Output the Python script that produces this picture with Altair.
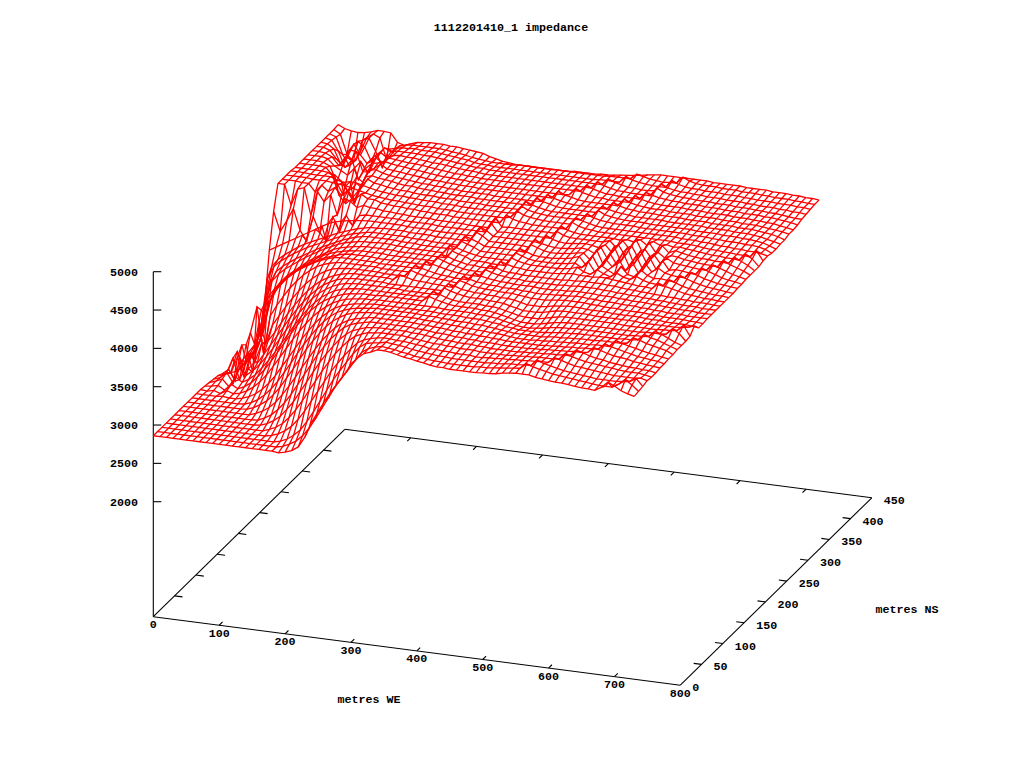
import altair as alt
import pandas as pd

we_m = [i * 10 for i in range(74)]
ns_m = [i * 10.1 for i in range(44)]

# impedance, in tens of ohms, one list per NS line (0..330 m WE, then 340..730 m WE)
z00 = [286,286,286,286,286,286,286,286,286,286,286,286,286,286,286,286,286,286,286,285,287,290,296,310,330,345,360,374,386,398,413,422,429,432]+[436,436,435,433,431,430,428,427,425,424,424,423,423,423,423,423,424,424,425,427,428,429,429,429,427,426,425,424,424,423,422,421,421,420,425,433,429,424,421,419]
z01 = [286,286,286,286,286,286,286,286,286,286,286,286,286,286,286,286,286,286,286,288,292,297,305,316,330,345,360,375,388,400,412,424,430,433]+[435,434,433,431,430,428,427,426,425,425,424,424,424,424,424,425,425,426,427,428,429,430,437,434,432,430,428,427,426,425,424,423,422,421,421,421,426,433,427,420]
z02 = [286,286,286,286,286,286,286,286,286,286,286,286,286,286,286,286,286,286,288,292,298,306,318,332,347,362,377,390,402,414,424,430,432,433]+[435,434,433,432,430,429,428,427,426,426,425,425,425,425,425,425,426,426,427,428,428,429,429,437,434,432,430,428,427,426,425,424,423,423,423,423,424,425,430,421]
z03 = [286,286,286,286,286,286,286,286,286,286,286,286,286,286,286,286,288,291,296,303,313,325,339,353,367,381,393,404,414,423,428,431,433,434]+[434,433,433,432,431,430,428,428,427,427,426,426,426,425,425,426,426,427,427,428,428,429,429,430,430,437,435,432,430,429,428,427,426,425,424,424,424,424,425,423]
z04 = [286,286,286,286,286,286,286,286,286,286,286,286,286,286,286,289,293,299,308,319,332,346,360,374,387,399,409,418,425,429,432,433,434,434]+[434,434,433,432,431,430,429,429,428,428,427,427,427,426,426,426,426,426,427,427,428,428,429,429,429,430,438,435,433,431,430,429,428,427,426,425,425,425,424,422]
z05 = [286,286,286,286,286,286,286,286,286,286,286,286,286,287,290,295,302,312,323,337,351,365,379,391,402,412,420,426,429,432,433,434,434,434]+[434,434,433,433,432,431,430,429,429,428,428,428,427,427,426,426,426,426,426,427,427,428,428,429,429,430,430,438,436,433,431,430,428,427,426,425,425,424,424,422]
z06 = [286,286,286,286,286,286,286,286,286,286,286,286,287,291,296,304,314,326,340,354,368,382,394,405,414,422,427,430,432,434,434,434,434,434]+[434,434,433,433,432,431,431,430,429,429,428,428,427,427,427,426,426,426,426,426,427,427,428,428,429,429,430,430,431,438,436,433,431,430,429,427,426,425,424,423]
z07 = [286,286,286,286,286,286,286,286,286,286,286,289,293,299,307,318,330,343,357,370,383,395,405,414,421,426,429,431,433,434,434,434,434,434]+[434,434,433,433,432,432,431,430,430,429,429,428,428,427,427,426,426,426,426,426,426,427,427,428,428,429,429,430,430,431,439,436,434,432,430,428,427,426,425,423]
z08 = [286,286,286,286,286,286,286,286,286,287,290,295,301,310,321,334,347,361,375,387,398,408,416,422,427,430,432,433,434,434,434,434,434,434]+[434,434,433,433,432,432,431,431,430,430,429,429,428,428,427,426,425,425,425,426,426,427,427,428,428,429,429,429,430,430,430,439,436,434,432,430,428,427,425,424]
z09 = [286,286,286,286,286,286,286,286,287,290,295,302,311,322,335,348,362,375,387,398,408,416,422,426,429,431,432,433,434,434,434,434,434,434]+[434,433,433,433,432,432,431,431,431,430,430,429,428,427,426,425,425,425,425,425,426,427,427,428,428,429,429,429,430,430,430,430,431,439,437,434,432,430,428,424]
z10 = [286,286,286,286,287,286,286,288,291,296,303,312,323,336,349,362,375,387,398,407,415,421,425,428,430,431,432,433,433,433,433,433,433,433]+[433,433,433,432,432,432,432,431,431,431,430,429,428,426,425,424,424,424,424,425,426,427,428,428,429,429,429,429,429,429,429,430,430,431,439,436,434,431,428,425]
z11 = [286,285,287,284,289,286,288,292,298,306,316,328,341,354,367,379,390,400,408,415,421,425,428,430,431,432,432,433,433,433,433,433,433,433]+[433,433,433,432,432,432,432,432,431,431,430,429,427,425,423,422,422,423,424,426,427,428,428,429,429,429,429,429,429,429,429,429,430,430,431,439,436,432,428,425]
z12 = [285,286,288,283,292,287,291,297,306,316,328,341,354,367,380,391,401,409,416,421,425,428,430,431,432,432,432,433,433,433,433,433,433,433]+[440,437,435,433,432,432,432,432,431,431,430,428,426,424,422,422,422,423,425,427,428,429,429,429,429,429,429,429,429,429,429,429,429,430,430,430,431,439,434,425]
z13 = [284,287,291,282,296,290,295,302,312,323,335,348,361,374,386,397,406,414,420,425,428,430,431,432,432,432,432,432,432,432,432,432,432,432]+[441,438,435,433,432,432,432,432,431,431,430,428,426,424,423,423,423,425,427,429,430,430,430,430,430,430,430,430,430,429,429,429,429,429,429,430,430,431,439,426]
z14 = [283,286,294,281,303,294,301,310,321,333,346,359,372,384,395,405,413,419,424,428,430,431,432,432,432,432,432,432,432,431,431,431,431,431]+[431,441,438,436,434,433,433,433,432,432,431,429,427,425,425,425,426,428,430,431,431,431,431,431,430,430,430,430,430,430,430,429,429,429,429,429,429,430,431,434]
z15 = [282,285,288,310,285,315,305,318,331,344,357,370,382,393,403,411,418,423,427,430,431,432,432,432,432,432,431,431,431,431,431,431,431,431]+[431,441,439,436,435,434,434,433,433,432,432,431,429,427,427,427,428,430,431,432,432,432,431,431,431,431,430,430,430,430,430,429,429,429,428,428,428,428,427,426]
z16 = [279,286,272,320,290,300,325,330,342,356,369,381,392,402,410,417,422,426,429,431,432,432,432,432,432,432,431,438,436,434,433,433,432,432]+[431,431,441,439,436,435,434,434,433,433,433,432,431,430,430,430,431,432,433,433,433,433,432,432,431,431,431,430,430,430,430,429,429,428,428,428,428,427,427,426]
z17 = [274,295,268,315,280,345,320,345,358,371,383,394,404,412,419,424,428,430,431,432,432,432,432,432,431,431,431,431,440,437,435,434,433,433]+[432,431,441,438,436,435,434,434,433,433,433,432,432,431,431,432,432,433,433,434,434,433,433,432,432,432,431,431,431,430,430,429,429,428,428,428,427,427,427,427]
z18 = [270,298,275,325,360,300,350,365,378,390,400,409,416,422,426,429,431,432,432,432,432,432,432,431,431,431,431,431,441,438,436,434,433,432]+[431,431,431,441,438,436,435,434,434,433,433,433,433,432,432,432,433,433,434,434,434,434,433,433,433,432,432,431,431,431,430,430,429,429,428,428,428,427,427,427]
z19 = [265,280,292,304,350,368,380,390,398,405,411,416,421,425,428,431,432,432,432,432,432,432,431,431,431,431,431,431,431,442,439,437,435,433]+[432,431,431,431,441,438,436,435,434,434,433,433,433,433,433,433,434,434,435,435,435,435,434,434,433,433,432,432,431,431,430,430,429,429,428,428,428,427,427,427]
z20 = [263,275,285,300,335,365,378,388,396,403,409,414,419,423,426,429,431,432,432,432,432,431,431,431,431,431,431,431,431,431,442,439,436,434]+[432,431,431,431,441,439,436,435,435,434,434,434,434,434,434,434,435,435,436,436,436,436,435,435,434,433,433,432,432,431,431,430,430,429,429,428,428,428,427,427]
z21 = [263,272,285,310,350,367,378,387,395,402,408,414,419,423,426,428,430,431,432,432,432,432,431,431,431,431,431,431,431,431,441,439,436,434]+[432,432,431,431,431,442,439,437,436,435,435,435,435,435,436,437,438,437,437,437,438,438,437,436,435,434,433,433,432,440,437,435,433,431,430,429,428,428,427,427]
z22 = [267,278,295,335,360,372,381,388,395,402,408,413,418,423,426,428,430,431,432,432,432,432,432,431,431,431,431,431,431,431,431,441,438,436]+[432,432,432,431,431,431,442,439,437,436,436,436,436,436,437,438,441,436,434,441,437,434,440,436,434,439,435,433,432,431,440,437,434,432,431,430,429,428,428,427]
z23 = [272,290,335,365,375,383,389,395,401,406,411,416,420,424,427,429,431,432,432,433,433,433,432,432,431,431,431,431,431,431,442,440,437,435]+[433,432,432,432,432,432,443,440,437,436,436,436,436,437,438,440,435,444,432,441,436,432,443,434,432,442,436,433,434,433,432,441,438,435,433,431,430,429,428,427]
z24 = [276,300,355,372,380,386,392,397,402,407,412,416,420,424,427,430,432,433,433,433,433,433,432,432,432,431,431,431,431,431,431,443,440,437]+[433,433,433,433,433,433,443,440,437,436,436,436,437,438,440,443,433,446,431,444,435,446,432,445,431,445,435,441,436,434,433,433,441,438,435,433,431,430,429,428]
z25 = [290,355,372,380,386,392,397,402,406,410,414,418,422,425,428,430,432,433,433,433,433,433,433,432,432,432,431,431,431,431,431,444,441,438]+[434,434,434,434,434,434,433,444,441,438,437,437,438,439,441,442,434,448,430,446,433,449,431,447,430,448,433,445,434,436,435,434,433,442,439,436,433,431,430,428]
z26 = [320,365,376,383,389,395,400,404,408,412,416,420,423,426,429,431,433,433,434,434,434,434,433,433,433,433,432,432,432,432,432,432,445,441]+[435,435,435,435,435,435,434,445,441,439,438,438,439,440,442,441,437,446,432,449,431,450,430,448,432,446,435,443,438,437,436,435,434,434,442,439,436,433,431,429]
z27 = [380,385,390,395,400,405,410,415,420,425,428,430,432,433,434,435,435,435,435,435,435,434,434,434,434,433,433,433,433,433,433,433,446,442]+[436,436,436,436,436,436,436,435,446,442,440,439,440,441,442,441,439,444,435,446,433,447,432,445,434,443,437,441,440,438,437,436,435,435,434,443,439,436,433,429]
z28 = [425,400,415,432,405,392,425,405,395,428,410,432,420,434,436,436,436,436,436,436,435,435,435,435,435,434,434,434,434,434,434,434,434,447]+[436,437,437,437,437,437,437,437,437,447,443,441,441,441,441,441,441,444,436,446,436,450,434,448,436,446,438,442,440,438,437,436,436,435,435,434,443,439,435,429]
z29 = [456,456,430,452,455,420,452,440,450,425,448,445,438,442,440,440,438,438,437,437,436,436,436,436,435,435,435,435,435,434,434,434,434,448]+[437,438,438,438,438,438,438,438,438,448,444,442,441,441,441,441,441,441,440,442,440,444,438,444,440,442,440,441,440,439,438,437,436,436,435,435,434,443,438,429]
z30 = [456,456,456,455,455,445,455,448,454,445,452,442,450,445,445,442,441,440,440,439,439,438,438,437,437,437,436,436,436,436,436,436,436,436]+[447,443,441,440,439,439,439,439,439,439,449,445,443,442,441,441,441,441,441,441,441,441,441,441,441,441,440,440,440,439,438,437,437,436,436,435,435,434,443,431]
z31 = [456,456,456,456,455,455,455,454,453,452,450,448,446,444,443,442,441,441,440,440,439,439,439,438,438,438,437,437,437,437,437,437,437,437]+[439,448,444,442,441,440,440,440,440,440,449,446,444,442,441,441,441,441,441,441,441,441,441,441,441,441,440,440,440,439,439,438,437,437,436,436,435,435,434,432]
z32 = [456,456,456,455,455,455,455,452,450,452,451,449,447,445,444,443,442,442,441,441,440,440,440,439,439,439,438,438,438,438,438,438,438,438]+[439,449,445,443,442,441,441,441,441,441,441,450,446,444,443,442,442,442,442,441,441,441,441,441,441,441,441,440,440,440,439,439,438,438,438,437,437,436,434,430]
z33 = [455,455,455,455,455,454,452,445,432,418,440,452,448,447,445,444,443,443,442,441,441,441,440,440,440,439,439,439,439,438,438,438,438,438]+[438,450,446,444,442,441,441,441,441,441,441,441,450,446,444,443,442,442,442,442,441,441,441,441,441,441,441,440,440,440,440,439,439,439,438,438,437,436,433,430]
z34 = [455,455,455,455,454,445,420,410,418,430,448,451,449,448,447,445,444,444,443,442,442,441,441,440,440,440,440,439,439,439,439,439,439,439]+[439,439,450,446,444,442,441,441,441,441,441,441,450,447,445,444,443,442,442,442,442,442,441,441,441,441,441,441,440,440,440,440,439,439,439,438,437,435,433,431]
z35 = [455,455,455,454,450,430,415,425,440,435,452,453,450,448,447,446,445,444,443,443,442,442,441,441,440,440,440,440,440,439,439,439,439,439]+[439,439,440,450,446,444,442,441,441,441,441,441,441,451,447,445,444,443,443,443,442,442,442,442,441,441,441,441,440,440,440,440,439,439,439,438,437,436,434,431]
z36 = [455,455,455,453,445,440,435,445,455,442,448,455,450,449,448,447,446,445,444,443,443,442,442,441,441,441,440,440,440,440,440,440,440,440]+[440,440,440,440,450,446,444,442,441,441,441,441,441,441,451,447,445,444,443,443,443,442,442,442,442,441,441,441,441,440,440,440,439,439,439,438,437,436,435,433]
z37 = [455,455,454,450,440,452,450,425,440,448,450,453,451,450,449,448,447,446,445,444,443,443,442,442,441,441,441,440,440,440,440,440,440,440]+[440,440,440,440,440,441,450,446,444,442,442,441,441,441,441,451,447,445,444,443,443,443,443,442,442,442,441,441,441,441,440,440,440,439,439,438,438,436,435,433]
z38 = [455,455,452,442,435,456,455,430,430,450,445,452,451,450,449,449,448,447,446,445,444,443,443,442,442,441,441,441,441,441,441,441,441,441]+[441,441,441,441,441,441,441,450,446,444,442,442,441,441,441,441,451,448,446,445,444,444,443,443,443,442,442,442,441,441,441,440,440,440,439,439,438,437,436,434]
z39 = [455,454,448,430,440,458,445,435,445,452,446,450,451,450,450,449,448,447,447,446,445,444,443,443,442,441,441,441,441,441,441,441,441,441]+[441,441,441,441,441,441,441,441,450,446,444,442,442,441,441,441,441,452,448,446,445,444,444,443,443,443,442,442,442,441,441,441,440,440,439,439,438,437,436,436]
z40 = [455,453,440,420,430,456,450,432,440,452,448,450,450,450,450,449,449,448,447,446,445,444,443,442,442,441,441,441,441,441,441,441,441,441]+[441,441,441,441,441,441,441,441,441,449,446,444,442,442,441,441,442,452,448,446,445,445,444,444,443,443,443,442,442,442,441,441,440,440,440,439,439,438,438,437]
z41 = [455,452,430,417,425,452,456,440,420,445,447,449,449,450,449,449,449,448,447,446,445,444,442,441,441,440,440,440,440,440,440,440,440,440]+[440,440,440,440,440,440,440,441,441,441,441,449,446,444,443,442,442,442,452,448,446,445,445,444,444,444,443,443,443,442,442,441,441,441,440,440,440,439,439,438]
z42 = [455,450,425,416,430,450,456,452,425,435,445,447,448,448,448,448,448,447,446,445,444,442,441,440,439,439,439,439,440,440,440,440,440,440]+[440,440,440,440,440,440,440,440,441,441,441,441,448,446,444,443,442,443,443,452,448,446,445,445,445,444,444,444,443,443,443,442,442,441,441,441,440,440,439,439]
z43 = [456,452,450,449,450,452,455,455,454,443,440,443,446,447,448,448,448,447,447,446,445,444,443,440,438,436,435,434,434,434,434,434,434,434]+[434,434,435,435,435,435,436,436,437,438,439,440,441,443,444,445,445,445,445,445,445,445,445,444,444,444,444,444,443,443,443,443,442,442,442,441,441,440,440,439]

z_rows = [z00,z01,z02,z03,z04,z05,z06,z07,z08,z09,z10,z11,z12,z13,z14,z15,z16,z17,z18,z19,z20,z21,
          z22,z23,z24,z25,z26,z27,z28,z29,z30,z31,z32,z33,z34,z35,z36,z37,z38,z39,z40,z41,z42,z43]

we_ticks = [0,100,200,300,400,500,600,700,800]
ns_ticks = [0,50,100,150,200,250,300,350,400,450]
z_ticks = [2000,2500,3000,3500,4000,4500,5000]
title_text = "1112201410_1 impedance"
we_title = "metres WE"
ns_title = "metres NS"


def proj(w, n, z=500.0):
    sx = 153.3 + w * 527.0 / 800 + n * 191.5 / 450
    sy = 616.7 + w * 68.5 / 800 - n * 187.4 / 450 - (z - 500.0) * 230.0 / 3000
    return sx, sy


surface = []
for i, (n, row) in enumerate(zip(ns_m, z_rows)):
    for j, (w, z) in enumerate(zip(we_m, row)):
        sx, sy = proj(w, n, z * 10)
        surface.append(dict(line=f"n{i}", seq=j, sx=sx, sy=sy))
for j, w in enumerate(we_m):
    for i, (n, row) in enumerate(zip(ns_m, z_rows)):
        if j < len(row):
            sx, sy = proj(w, n, row[j] * 10)
            surface.append(dict(line=f"w{j}", seq=i, sx=sx, sy=sy))
surface = pd.DataFrame(surface)

axes = []


def seg(name, a, b):
    axes.append(dict(line=name, seq=0, sx=a[0], sy=a[1]))
    axes.append(dict(line=name, seq=1, sx=b[0], sy=b[1]))


seg("front", proj(0, 0), proj(800, 0))
seg("left", proj(0, 0), proj(0, 450))
seg("back", proj(0, 450), proj(800, 450))
seg("right", proj(800, 0), proj(800, 450))
seg("zaxis", proj(0, 0), proj(0, 0, 5000))
for w in we_ticks[1:-1]:
    seg(f"wf{w}", proj(w, 0), proj(w, 8))
    seg(f"wb{w}", proj(w, 450), proj(w, 442))
for n in ns_ticks[1:-1]:
    seg(f"nl{n}", proj(0, n), proj(12, n))
    seg(f"nr{n}", proj(800, n), proj(788, n))
for z in z_ticks:
    a = proj(0, 0, z)
    seg(f"z{z}", a, (a[0] + 8, a[1]))
axes = pd.DataFrame(axes)

center = []
for w in we_ticks:
    sx, sy = proj(w, 0)
    center.append(dict(sx=sx, sy=sy + 7.5, t=str(w)))
center.append(dict(sx=511, sy=27, t=title_text))
center.append(dict(sx=369, sy=699, t=we_title))
center.append(dict(sx=907, sy=609, t=ns_title))
left = []
for n in ns_ticks:
    sx, sy = proj(800, n)
    left.append(dict(sx=sx + 12, sy=sy + 2, t=str(n)))
right = []
for z in z_ticks:
    sx, sy = proj(0, 0, z)
    right.append(dict(sx=138, sy=sy, t=str(z)))

X = alt.X("sx:Q", scale=alt.Scale(domain=[8, 1008], range=[0, 1000], nice=False, zero=False), axis=None)
Y = alt.Y("sy:Q", scale=alt.Scale(domain=[8, 753], range=[0, 745], nice=False, zero=False), axis=None)

surf = alt.Chart(surface).mark_line(color="#ff0000", strokeWidth=1.3, interpolate="linear").encode(
    x=X, y=Y, detail="line:N", order="seq:Q")
ax = alt.Chart(axes).mark_line(color="#000000", strokeWidth=1.1).encode(x=X, y=Y, detail="line:N", order="seq:Q")


def text_layer(rows, align):
    return alt.Chart(pd.DataFrame(rows)).mark_text(
        align=align, baseline="middle", font="Liberation Mono", fontSize=11.7, fontWeight="bold", color="#000000"
    ).encode(x=X, y=Y, text="t:N")


chart = alt.layer(ax, surf, text_layer(center, "center"), text_layer(left, "left"), text_layer(right, "right")).properties(
    width=1000, height=745, padding=0, background="white",
    autosize=alt.AutoSizeParams(type="none"),
).configure_view(stroke=None)

chart.save("out.html", embed_options={"renderer": "svg", "actions": False})
